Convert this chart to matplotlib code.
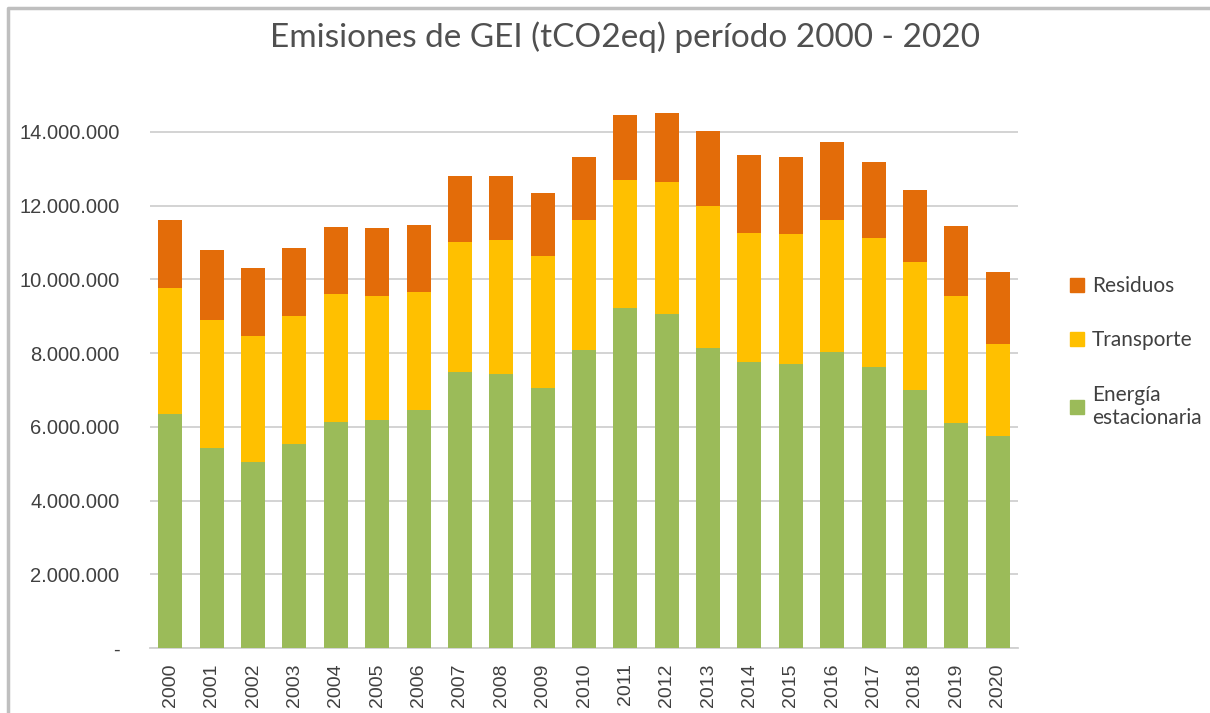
import numpy as np
import matplotlib.pyplot as plt
from matplotlib.lines import Line2D

# datos (tCO2eq)
years = [str(y) for y in range(2000, 2021)]
energia = [6.36, 5.43, 5.05, 5.54, 6.13, 6.19, 6.46, 7.49, 7.44, 7.06, 8.08,
           9.22, 9.06, 8.14, 7.76, 7.70, 8.03, 7.61, 7.01, 6.09, 5.76]
transporte_top = [9.76, 8.90, 8.46, 9.01, 9.60, 9.54, 9.65, 11.01, 11.06, 10.63, 11.60,
                  12.69, 12.63, 11.98, 11.27, 11.22, 11.60, 11.12, 10.46, 9.55, 8.25]
total = [11.60, 10.79, 10.30, 10.84, 11.43, 11.39, 11.48, 12.79, 12.79, 12.35, 13.33,
         14.47, 14.52, 14.03, 13.38, 13.33, 13.72, 13.18, 12.42, 11.44, 10.19]

energia = np.array(energia) * 1e6
transporte = np.array(transporte_top) * 1e6 - energia
residuos = np.array(total) * 1e6 - energia - transporte

c_energia = '#9BBB59'
c_transp = '#FFC000'
c_resid = '#E36C09'
txt = '#404040'

fig = plt.figure(figsize=(12.1, 7.13), dpi=100)
ax = fig.add_axes([150 / 1210, 1 - 648 / 713, 868 / 1210, 553 / 713])

x = np.arange(len(years))
w = 0.58
ax.bar(x, energia, w, color=c_energia, zorder=3)
ax.bar(x, transporte, w, bottom=energia, color=c_transp, zorder=3)
ax.bar(x, residuos, w, bottom=energia + transporte, color=c_resid, zorder=3)

ax.set_xlim(-0.49, 20.49)
ax.set_ylim(0, 15.0e6)
ticks = np.arange(0, 14.1e6, 2e6)
ax.set_yticks(ticks)
ax.set_yticklabels(['-'] + [f'{int(t):,}'.replace(',', '.') for t in ticks[1:]],
                   fontsize=14.5, color=txt, family='Liberation Sans')
ax.set_xticks(x)
ax.set_xticklabels(years, rotation=90, fontsize=14, color=txt, family='Liberation Sans')
ax.tick_params(axis='both', length=0)
ax.tick_params(axis='y', pad=22)
ax.tick_params(axis='x', pad=11)

ax.grid(axis='y', color='#D0D0D0', linewidth=1.3, zorder=0)
for s in ['top', 'right', 'left']:
    ax.spines[s].set_visible(False)
ax.spines['bottom'].set_color('#D0D0D0')
ax.spines['bottom'].set_linewidth(1.3)

fig.text(625 / 1210, 1 - 37 / 713, 'Emisiones de GEI (tCO2eq) período 2000 - 2020',
         ha='center', va='center', fontsize=24, color='#505050', family='Lato')

# leyenda
handles = [Line2D([], [], marker='s', linestyle='none', markersize=10, color=c)
           for c in [c_resid, c_transp, c_energia]]
leg = fig.legend(handles, ['Residuos', 'Transporte', 'Energía\nestacionaria'],
                 loc='center left', bbox_to_anchor=(1050 / 1210, 1 - 352 / 713),
                 frameon=False, handlelength=0.8, handletextpad=0.3,
                 labelspacing=1.65, prop={'family': 'Lato', 'size': 15})
for t in leg.get_texts():
    t.set_color(txt)

# marco del gráfico
fig.add_artist(Line2D([8 / 1210, 8 / 1210, 1.0], [0.0, 1 - 8 / 713, 1 - 8 / 713],
                      transform=fig.transFigure, color='#BFBFBF', linewidth=2.5))

plt.savefig('out.png', dpi=100)
plt.close()
